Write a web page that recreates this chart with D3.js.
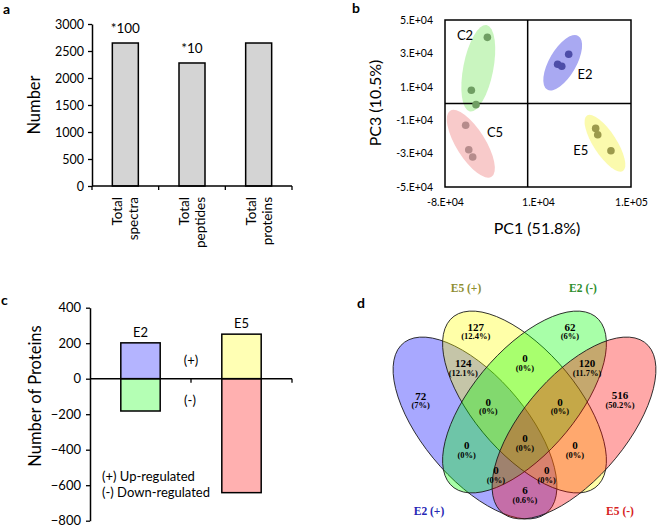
<!DOCTYPE html>
<html><head><meta charset="utf-8">
<script src="https://cdn.jsdelivr.net/npm/d3@7"></script>
<style>
body{margin:0;background:#fff}
svg{display:block}
text{font-family:Lato,"Open Sans",sans-serif;fill:#000}
.venn text{font-family:"Liberation Serif","Times New Roman",serif;font-weight:bold}
</style>
</head><body>
<svg id="fig" width="658" height="528"></svg>
<script>
// ---------- Panel a data ----------
const summaryCategories = [["Total","spectra"],["Total","peptides"],["Total","proteins"]];
const summaryValues = [2648, 2278, 2648];
const summaryMultipliers = ["*100","*10",""];
const summaryTicks = [0,500,1000,1500,2000,2500,3000];

// ---------- Panel b data ----------
const pcaGroups = ["C2","E2","C5","E5"];
const pcaPC1 = [[-39000,-54500,-50000],[39700,29000,33000],[-60000,-57000,-53200],[65800,67800,80600]];
const pcaPC3 = [[39600,7900,-700],[29500,23500,22300],[-13000,-27700,-32000],[-14900,-18700,-28300]];
const pcaEllipsePC1 = [-47800, 33900, -55000, 74800];
const pcaEllipsePC3 = [21100, 24400, -24100, -23800];
const pcaLabelPC1 = [-60600, 55500, -31600, 51300];
const pcaLabelPC3 = [41000, 17100, -17100, -28300];
const pcaXTicks = [-80000, 10000, 100000];
const pcaYTicks = [50000, 30000, 10000, -10000, -30000, -50000];

// ---------- Panel c data ----------
const regGroups = ["E2","E5"];
const regUp = [202, 251];
const regDown = [-182, -642];
const regTicks = [400,200,0,-200,-400,-600,-800];

// ---------- Panel d data ----------
const vennSets = ["E2 (+)","E5 (+)","E2 (-)","E5 (-)"];
const vennRegions = ["1","2","3","4","12","13","14","23","24","34","123","124","134","234","1234"];
const vennCounts  = [72,127,62,516,124,0,6,0,0,120,0,0,0,0,0];

// ================= drawing =================
const svg = d3.select("#fig");
function styleAxis(g, fs){
  g.selectAll(".domain").attr("stroke","#000").attr("stroke-width",1.5);
  g.selectAll(".tick line").attr("stroke","#000").attr("stroke-width",1.3);
  g.selectAll(".tick text").attr("font-size",fs).attr("font-family","Lato, sans-serif").attr("fill","#000");
}
function panelLabel(t,x,y){
  svg.append("text").attr("x",x).attr("y",y).attr("font-size",14).attr("font-weight","bold").text(t);
}

// ---------- Panel a ----------
{
  const g = svg.append("g");
  const x = d3.scaleBand().domain(d3.range(summaryValues.length)).range([92,292]);
  const y = d3.scaleLinear().domain([0,3000]).range([186,24]);
  const bw = x.bandwidth()*0.39;
  g.selectAll("rect").data(summaryValues).join("rect")
    .attr("x",(d,i)=>x(i)+(x.bandwidth()-bw)/2).attr("width",bw)
    .attr("y",d=>y(d)).attr("height",d=>y(0)-y(d))
    .attr("fill","#d4d4d4").attr("stroke","#000").attr("stroke-width",1.5);
  const ya = g.append("g").attr("transform","translate(92,0)")
    .call(d3.axisLeft(y).tickValues(summaryTicks).tickFormat(d3.format("d")).tickSize(4).tickSizeOuter(0).tickPadding(4));
  styleAxis(ya,12.5);
  const bounds = [x.range()[0]].concat(x.domain().map(i=>x(i)+x.step()));
  g.append("line").attr("x1",92).attr("x2",292).attr("y1",y(0)).attr("y2",y(0)).attr("stroke","#000").attr("stroke-width",1.5);
  g.selectAll("line.tk").data(bounds).join("line").attr("class","tk")
    .attr("x1",d=>d).attr("x2",d=>d).attr("y1",y(0)).attr("y2",y(0)+4).attr("stroke","#000").attr("stroke-width",1.3);
  summaryCategories.forEach((lines,i)=>{
    const t = g.append("text").attr("transform",`translate(${x(i)+x.bandwidth()/2},197) rotate(-90)`)
      .attr("text-anchor","end").attr("font-size",13.5);
    t.append("tspan").attr("x",0).attr("y",-3).text(lines[0]);
    t.append("tspan").attr("x",0).attr("y",13).text(lines[1]);
  });
  summaryMultipliers.forEach((m,i)=>{
    if(!m) return;
    g.append("text").attr("x",x(i)+x.bandwidth()/2).attr("y",y(summaryValues[i])-10)
      .attr("text-anchor","middle").attr("font-size",13.5).text(m);
  });
  g.append("text").attr("transform","translate(40,105) rotate(-90)").attr("text-anchor","middle")
    .attr("font-size",16.5).text("Number");
  panelLabel("a",3,14);
}

// ---------- Panel b ----------
{
  const g = svg.append("g");
  const x = d3.scaleLinear().domain([-80000,100000]).range([445,631]);
  const y = d3.scaleLinear().domain([-50000,50000]).range([187,20]);
  const ellFill = ["#c9f5bf","#a9a9f2","#f8caca","#fbfaad"];
  const ptFill = ["#6f9e63","#4d4da8","#b68c8c","#9c9a4c"];
  const ellA = [44,31,39,33], ellB = [15,13.5,14.5,11.5], ellRot = [11,30,-32,-33];
  pcaGroups.forEach((grp,i)=>{
    g.append("ellipse").attr("transform",`translate(${x(pcaEllipsePC1[i])},${y(pcaEllipsePC3[i])}) rotate(${ellRot[i]})`)
      .attr("rx",ellB[i]).attr("ry",ellA[i]).attr("fill",ellFill[i]);
  });
  g.append("rect").attr("x",x(-80000)).attr("y",y(50000)).attr("width",x(100000)-x(-80000)).attr("height",y(-50000)-y(50000))
    .attr("fill","none").attr("stroke","#000").attr("stroke-width",1.5);
  g.append("line").attr("x1",x(0)).attr("x2",x(0)).attr("y1",y(50000)).attr("y2",y(-50000)).attr("stroke","#000").attr("stroke-width",1.5);
  g.append("line").attr("x1",x(-80000)).attr("x2",x(100000)).attr("y1",y(0)).attr("y2",y(0)).attr("stroke","#000").attr("stroke-width",1.5);
  pcaGroups.forEach((grp,i)=>{
    pcaPC1[i].forEach((v,j)=>{
      g.append("circle").attr("cx",x(v)).attr("cy",y(pcaPC3[i][j])).attr("r",3.8).attr("fill",ptFill[i]);
    });
    g.append("text").attr("x",x(pcaLabelPC1[i])).attr("y",y(pcaLabelPC3[i])).attr("dy","0.35em")
      .attr("text-anchor","middle").attr("font-size",13).text(grp);
  });
  const fmt = d=>{ if(d===0) return "0"; const e=Math.floor(Math.log10(Math.abs(d))); return `${Math.round(d/Math.pow(10,e))}.E+${String(e).padStart(2,"0")}`; };
  const ya = g.append("g").attr("transform",`translate(${x(-80000)},0)`)
    .call(d3.axisLeft(y).tickValues(pcaYTicks).tickFormat(fmt).tickSize(0).tickPadding(12));
  ya.select(".domain").remove(); styleAxis(ya,10.5);
  const xa = g.append("g").attr("transform",`translate(0,${y(-50000)})`)
    .call(d3.axisBottom(x).tickValues(pcaXTicks).tickFormat(fmt).tickSize(0).tickPadding(12));
  xa.select(".domain").remove(); styleAxis(xa,10.5);
  g.append("text").attr("x",537).attr("y",234).attr("text-anchor","middle").attr("font-size",16).text("PC1 (51.8%)");
  g.append("text").attr("transform","translate(381,103) rotate(-90)").attr("text-anchor","middle").attr("font-size",16).text("PC3 (10.5%)");
  panelLabel("b",352,13);
}

// ---------- Panel c ----------
{
  const g = svg.append("g");
  const x = d3.scaleBand().domain(regGroups).range([90,292]);
  const y = d3.scaleLinear().domain([-800,400]).range([520.7,307.7]);
  const bw = x.bandwidth()*0.39;
  const upFill = ["#b4b4ff","#ffffb4"], downFill = ["#b4ffb4","#ffb0b0"];
  regGroups.forEach((grp,i)=>{
    const bx = x(grp)+(x.bandwidth()-bw)/2;
    g.append("rect").attr("x",bx).attr("width",bw).attr("y",y(regUp[i])).attr("height",y(0)-y(regUp[i]))
      .attr("fill",upFill[i]).attr("stroke","#000").attr("stroke-width",1.5);
    g.append("rect").attr("x",bx).attr("width",bw).attr("y",y(0)).attr("height",y(regDown[i])-y(0))
      .attr("fill",downFill[i]).attr("stroke","#000").attr("stroke-width",1.5);
    g.append("text").attr("x",x(grp)+x.bandwidth()/2).attr("y",y(regUp[i])-6).attr("text-anchor","middle")
      .attr("font-size",13).text(grp);
  });
  const ya = g.append("g").attr("transform","translate(90,0)")
    .call(d3.axisLeft(y).tickValues(regTicks).tickSize(4).tickSizeOuter(0).tickPadding(5));
  styleAxis(ya,13);
  g.append("line").attr("x1",90).attr("x2",292).attr("y1",y(0)).attr("y2",y(0)).attr("stroke","#000").attr("stroke-width",1.5);
  const bounds = regGroups.map(d=>x(d)+x.step());
  g.selectAll("line.tk").data(bounds).join("line").attr("class","tk")
    .attr("x1",d=>d).attr("x2",d=>d).attr("y1",y(0)).attr("y2",y(0)+4).attr("stroke","#000").attr("stroke-width",1.3);
  g.append("text").attr("x",x("E5")).attr("y",y(100)+4).attr("text-anchor","middle").attr("font-size",13).text("(+)");
  g.append("text").attr("x",x("E5")-1).attr("y",y(-125)+4).attr("text-anchor","middle").attr("font-size",13).text("(-)");
  g.append("text").attr("x",102).attr("y",481).attr("font-size",13).text("(+) Up-regulated");
  g.append("text").attr("x",102).attr("y",497).attr("font-size",13).text("(-) Down-regulated");
  g.append("text").attr("transform","translate(41,396) rotate(-90)").attr("text-anchor","middle")
    .attr("font-size",16.5).text("Number of Proteins");
  panelLabel("c",1,305);
}

// ---------- Panel d ----------
{
  const g = svg.append("g").attr("class","venn");
  const layout = {
    centers: [[475,428],[524.5,402],[524.5,402],[574,428]],
    a: 105, b: 49, stretchY: 1.11, rot: [45,45,-45,-45],
    fills: ["#0000ff","#ffff00","#00ff00","#ff0000"],
    setPos: [[429,515],[466,291.5],[583,291.5],[620,515]],
    setColor: ["#2626b4","#8e8e30","#2e8e2e","#d62222"],
    regionPos: {"1":[420.7,395.7],"2":[475.7,326.7],"3":[570,326.7],"4":[620,395],
      "12":[463.3,363.3],"13":[466.7,445],"14":[525,490],"23":[525,358.3],"24":[575,445],"34":[587,363.3],
      "123":[488.3,401.7],"124":[546.7,470],"134":[496,470],"234":[560,401.7],"1234":[525,438.3]}
  };
  vennSets.forEach((s,i)=>{
    const [cx,cy] = layout.centers[i];
    g.append("ellipse").attr("transform",`translate(${cx},${cy}) scale(1,${layout.stretchY}) rotate(${layout.rot[i]})`)
      .attr("rx",layout.a).attr("ry",layout.b).attr("fill",layout.fills[i]).attr("fill-opacity",0.34)
      .attr("stroke","#1a1a1a").attr("stroke-width",0.9).attr("vector-effect","non-scaling-stroke");
  });
  const total = d3.sum(vennCounts);
  const pct = c=>{ const p = Math.round(c/total*1000)/10; return `(${p}%)`; };
  vennRegions.forEach((r,i)=>{
    const [px,py] = layout.regionPos[r];
    g.append("text").attr("x",px).attr("y",py+4).attr("text-anchor","middle").attr("font-size",11).text(vennCounts[i]);
    g.append("text").attr("x",px).attr("y",py+12.5).attr("text-anchor","middle").attr("font-size",8.5).text(pct(vennCounts[i]));
  });
  vennSets.forEach((s,i)=>{
    g.append("text").attr("x",layout.setPos[i][0]).attr("y",layout.setPos[i][1]).attr("text-anchor","middle")
      .attr("font-size",11.5).style("fill",layout.setColor[i]).text(s);
  });
  panelLabel("d",357,308);
}
</script>
</body></html>
